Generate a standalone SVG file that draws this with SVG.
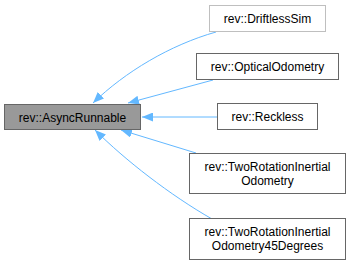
<svg xmlns="http://www.w3.org/2000/svg" width="351" height="265" viewBox="0 0 351 265">
  <style>
    .box { fill: #ffffff; stroke: #666666; stroke-width: 1; }
    .box.focus { fill: #999999; }
    .box.undoc { stroke: #bfbfbf; }
    .lbl { font-family: "Liberation Sans", Arial, Helvetica, sans-serif; font-size: 12px; fill: #000000; text-anchor: middle; }
    .edge { fill: none; stroke: #63b8ff; stroke-width: 1; }
  </style>
  <defs>
    <marker id="arrow" markerUnits="userSpaceOnUse" markerWidth="11" markerHeight="9" refX="11" refY="4.5" orient="auto">
      <path d="M0,0 L11,4.5 L0,9 z" fill="#63b8ff"/>
    </marker>
  </defs>
  <rect width="351" height="265" fill="#ffffff"/>

  <!-- inheritance connectors: child -> base class -->
  <g id="edges">
    <path class="edge" d="M216,32 C170,45 125,72 93,103" marker-end="url(#arrow)"/>
    <path class="edge" d="M213,80 L128,103" marker-end="url(#arrow)"/>
    <path class="edge" d="M217,117 L142,117" marker-end="url(#arrow)"/>
    <path class="edge" d="M196,153 L121,130" marker-end="url(#arrow)"/>
    <path class="edge" d="M212,219 C170,195 125,160 95,130" marker-end="url(#arrow)"/>
  </g>

  <g id="node-asyncrunnable">
    <rect class="box focus" x="4.5" y="104.5" width="136" height="25"/>
    <text class="lbl" x="72.5" y="121.5">rev::AsyncRunnable</text>
  </g>
  <g id="node-driftlesssim">
    <rect class="box undoc" x="209.5" y="5.5" width="116" height="26"/>
    <text class="lbl" x="267.5" y="23">rev::DriftlessSim</text>
  </g>
  <g id="node-opticalodometry">
    <rect class="box" x="196.5" y="53.5" width="142" height="26"/>
    <text class="lbl" x="267.5" y="71">rev::OpticalOdometry</text>
  </g>
  <g id="node-reckless">
    <rect class="box" x="217.5" y="103.5" width="100" height="26"/>
    <text class="lbl" x="267.5" y="121">rev::Reckless</text>
  </g>
  <g id="node-tworotationinertialodometry">
    <rect class="box" x="189.5" y="153.5" width="156" height="40"/>
    <text class="lbl" x="267.5" y="171">rev::TwoRotationInertial</text>
    <text class="lbl" x="267.5" y="185">Odometry</text>
  </g>
  <g id="node-tworotationinertialodometry45degrees">
    <rect class="box" x="189.5" y="218.5" width="156" height="41"/>
    <text class="lbl" x="267.5" y="236">rev::TwoRotationInertial</text>
    <text class="lbl" x="267.5" y="250">Odometry45Degrees</text>
  </g>
</svg>
